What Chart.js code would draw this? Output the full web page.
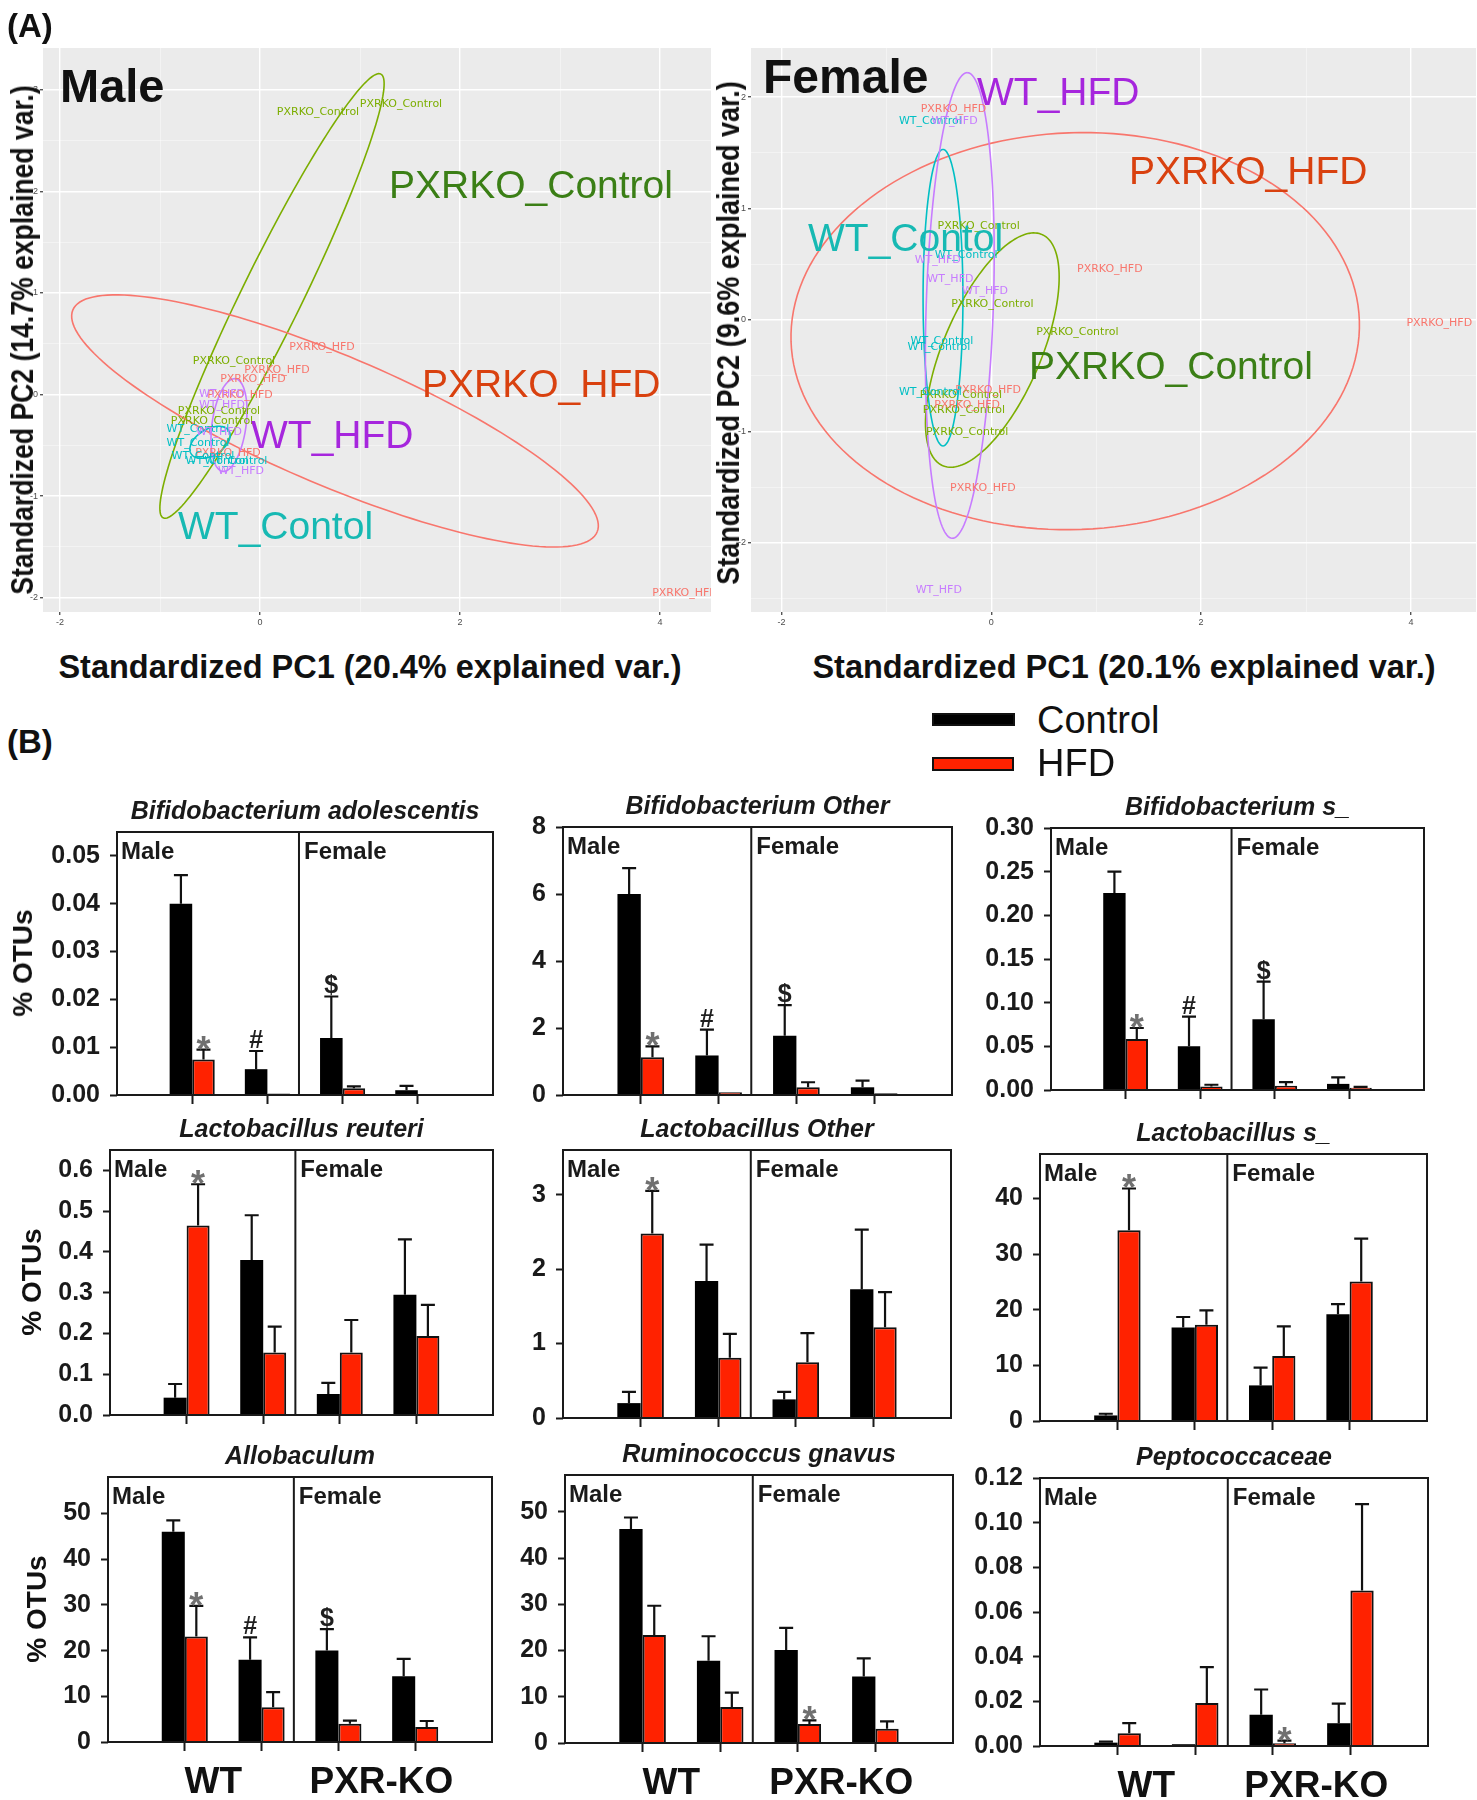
<!DOCTYPE html>
<html>
<head>
<meta charset="utf-8">
<script src="https://cdn.jsdelivr.net/npm/chart.js@4.4.1/dist/chart.umd.min.js"></script>
<style>
  body { margin: 0; background: #fff; }
  #fig { position: relative; width: 1477px; height: 1800px; overflow: hidden;
         font-family: "Liberation Sans", Arial, Helvetica, sans-serif; color: #111; }
  canvas { position: absolute; }
  .t { position: absolute; white-space: nowrap; line-height: 1; z-index: 2; }
  .sw { position: absolute; box-sizing: border-box; z-index: 2; }
</style>
</head>
<body>
<div id="fig"></div>
<script>
// ---------- PCA (A) ----------
const pcaGroups = ['PXRKO_Control', 'PXRKO_HFD', 'WT_Control', 'WT_HFD'];

const maleKoControl = [[0.58, 2.78], [1.41, 2.86], [-0.26, 0.33], [-0.41, -0.16], [-0.48, -0.26]];
const maleKoHfd = [[0.62, 0.47], [0.17, 0.24], [-0.07, 0.15], [-0.2, -0.01], [-0.32, -0.58], [4.25, -1.95]];
const maleWtControl = [[-0.62, -0.34], [-0.62, -0.48], [-0.57, -0.61], [-0.43, -0.66], [-0.24, -0.66]];
const maleWtHfd = [[-0.38, 0.0], [-0.38, -0.1], [-0.41, -0.37], [-0.19, -0.75]];
// ellipses: centre x, centre y, semi-major, semi-minor, angle (deg)
const maleEllipses = [[0.12, 0.97, 2.44, 0.3, 63.5], [0.75, -0.26, 2.84, 0.64, -22.6],
                      [-0.5, -0.47, 0.22, 0.13, 30], [-0.31, -0.3, 0.46, 0.17, 82]];

const femKoControl = [[-0.12, 0.84], [0.01, 0.14], [0.82, -0.11], [-0.29, -0.67], [-0.26, -0.81], [-0.23, -1.01]];
const femKoHfd = [[-0.36, 1.89], [1.13, 0.46], [4.27, -0.03], [-0.03, -0.63], [-0.23, -0.76], [-0.08, -1.51]];
const femWtControl = [[-0.58, 1.78], [-0.24, 0.58], [-0.47, -0.19], [-0.5, -0.24], [-0.58, -0.65]];
const femWtHfd = [[-0.35, 1.78], [-0.51, 0.54], [-0.39, 0.37], [-0.06, 0.26], [-0.5, -2.42]];
const femEllipses = [[0.01, -0.27, 1.14, 0.46, 65], [0.8, -0.1, 2.71, 1.78, 2],
                     [-0.46, 0.2, 1.33, 0.19, 90], [-0.3, 0.13, 2.09, 0.32, 88]];

// ---------- bar panels (B) ----------
const slots = ['', 'WT male', 'PXR-KO male', 'WT female', 'PXR-KO female', ''];

const bifAdoCtrl = [0.040, 0.0054, 0.0119, 0.0010];
const bifAdoCtrlErr = [0.006, 0.0038, 0.0087, 0.0009];
const bifAdoHfd = [0.0074, 0.0003, 0.0014, 0.0001];
const bifAdoHfdErr = [0.0021, 0, 0.0004, 0];

const bifOthCtrl = [6.0, 1.18, 1.77, 0.23];
const bifOthCtrlErr = [0.77, 0.77, 0.91, 0.2];
const bifOthHfd = [1.13, 0.08, 0.23, 0.05];
const bifOthHfdErr = [0.32, 0, 0.15, 0];

const bifSCtrl = [0.2255, 0.050, 0.081, 0.007];
const bifSCtrlErr = [0.0245, 0.034, 0.043, 0.0075];
const bifSHfd = [0.0585, 0.004, 0.005, 0.0027];
const bifSHfdErr = [0.0125, 0.002, 0.004, 0.0008];

const lacReuCtrl = [0.0425, 0.38, 0.0515, 0.295];
const lacReuCtrlErr = [0.0335, 0.11, 0.0275, 0.136];
const lacReuHfd = [0.465, 0.153, 0.153, 0.194];
const lacReuHfdErr = [0.101, 0.064, 0.08, 0.076];

const lacOthCtrl = [0.20, 1.84, 0.25, 1.73];
const lacOthCtrlErr = [0.15, 0.49, 0.10, 0.80];
const lacOthHfd = [2.48, 0.81, 0.75, 1.22];
const lacOthHfdErr = [0.57, 0.32, 0.39, 0.47];

const lacSCtrl = [1.0, 16.8, 6.4, 19.2];
const lacSCtrlErr = [0.3, 1.9, 3.2, 1.8];
const lacSHfd = [34.3, 17.3, 11.7, 25.1];
const lacSHfdErr = [7.5, 2.6, 5.3, 7.7];

const alloCtrl = [46.0, 18.0, 20.0, 14.4];
const alloCtrlErr = [2.5, 4.9, 4.7, 3.8];
const alloHfd = [23.1, 7.6, 4.0, 3.3];
const alloHfdErr = [6.7, 3.3, 0.7, 1.3];

const rumCtrl = [46.3, 17.8, 20.1, 14.4];
const rumCtrlErr = [2.5, 5.3, 4.8, 3.9];
const rumHfd = [23.4, 7.8, 4.1, 3.1];
const rumHfdErr = [6.3, 3.1, 0.8, 1.6];

const pepCtrl = [0.0015, 0.0008, 0.014, 0.0102];
const pepCtrlErr = [0.0005, 0, 0.0113, 0.0088];
const pepHfd = [0.0057, 0.0192, 0.0012, 0.0696];
const pepHfdErr = [0.0045, 0.0161, 0.0012, 0.0387];

// significance marks above the bars
const marksCtrlBif = ['', '#', '$', ''];
const marksHfdFirst = ['*', '', '', ''];
const marksNone = ['', '', '', ''];
const marksHfdThird = ['', '', '*', ''];

// ---------- helpers ----------
const FONT = '"Liberation Sans", Arial, Helvetica, sans-serif';
Chart.defaults.font.family = FONT;
const fig = document.getElementById('fig');

function addText(txt, x, cy, size, o = {}) {
  const d = document.createElement('div');
  d.className = 't';
  d.textContent = txt;
  d.style.left = x + 'px';
  d.style.top = (cy - size * 0.49) + 'px';
  d.style.fontSize = size + 'px';
  d.style.fontWeight = o.bold ? 'bold' : 'normal';
  if (o.color) d.style.color = o.color;
  if (o.center) d.style.transform = 'translateX(-50%)';
  if (o.rot) {
    d.style.top = cy + 'px';
    d.style.transform = 'translate(-50%,-50%) rotate(-90deg) scaleX(' + o.rot + ')';
  }
  fig.appendChild(d);
  return d;
}

function makeCanvas(left, top, w, h) {
  const c = document.createElement('canvas');
  c.width = w; c.height = h;
  c.style.left = left + 'px'; c.style.top = top + 'px';
  c.style.width = w + 'px'; c.style.height = h + 'px';
  fig.appendChild(c);
  return c;
}

// ---------- PCA charts ----------
const pcaColors = ['#7cae00', '#f8766d', '#00bfc4', '#c77cff'];

const pcaExtras = {
  id: 'pcaExtras',
  beforeDraw(chart) {
    const { ctx, chartArea: a } = chart;
    ctx.save();
    ctx.fillStyle = '#ebebeb';
    ctx.fillRect(a.left, a.top, a.right - a.left, a.bottom - a.top);
    ctx.restore();
  },
  afterDatasetsDraw(chart, args, opts) {
    const { ctx, chartArea: a, scales: { x, y } } = chart;
    ctx.save();
    ctx.beginPath();
    ctx.rect(a.left, a.top, a.right - a.left, a.bottom - a.top);
    ctx.clip();
    opts.ellipses.forEach((e, i) => {
      const [cx, cy, ra, rb, deg] = e;
      const t = deg * Math.PI / 180;
      ctx.beginPath();
      for (let k = 0; k <= 160; k++) {
        const s = k / 160 * 2 * Math.PI;
        const ex = cx + ra * Math.cos(t) * Math.cos(s) - rb * Math.sin(t) * Math.sin(s);
        const ey = cy + ra * Math.sin(t) * Math.cos(s) + rb * Math.cos(t) * Math.sin(s);
        const px = x.getPixelForValue(ex), py = y.getPixelForValue(ey);
        if (k === 0) ctx.moveTo(px, py); else ctx.lineTo(px, py);
      }
      ctx.strokeStyle = pcaColors[i];
      ctx.lineWidth = 1.6;
      ctx.stroke();
    });
    ctx.font = '11px "DejaVu Sans", sans-serif';
    ctx.textAlign = 'center';
    ctx.textBaseline = 'middle';
    chart.data.datasets.forEach((ds, i) => {
      ctx.fillStyle = pcaColors[i];
      chart.getDatasetMeta(i).data.forEach(el => ctx.fillText(ds.label, el.x, el.y));
    });
    ctx.restore();
  }
};

function pcaChart(canvas, groups, ellipses, ax) {
  const gridColor = major => ctx => (ctx.tick && major(ctx.tick.value)) ? '#ffffff' : 'rgba(255,255,255,0.6)';
  const gridWidth = major => ctx => (ctx.tick && major(ctx.tick.value)) ? 1.4 : 0.7;
  const tickCol = major => ctx => (ctx.tick && major(ctx.tick.value)) ? '#555' : 'rgba(0,0,0,0)';
  const xMajor = v => v % 2 === 0;
  const yMajor = v => Number.isInteger(v);
  return new Chart(canvas, {
    type: 'scatter',
    data: {
      datasets: groups.map((pts, i) => ({
        label: pcaGroups[i],
        data: pts.map(p => ({ x: p[0], y: p[1] })),
        pointRadius: 0
      }))
    },
    options: {
      responsive: false, animation: false, devicePixelRatio: 1,
      layout: { padding: { top: ax.padTop, right: ax.padRight, left: 0, bottom: 0 } },
      plugins: { legend: { display: false }, tooltip: { enabled: false }, pcaExtras: { ellipses } },
      scales: {
        x: {
          type: 'linear', min: ax.xMin, max: ax.xMax,
          ticks: { stepSize: 1, includeBounds: false, maxRotation: 0, autoSkip: false, padding: 2, color: '#4d4d4d',
                   font: { size: 9 }, callback: v => xMajor(v) ? String(v) : '' },
          grid: { color: gridColor(xMajor), lineWidth: gridWidth(xMajor), tickColor: tickCol(xMajor), tickLength: 3 },
          border: { display: false },
          afterFit: s => { s.height = ax.xH; }
        },
        y: {
          type: 'linear', min: ax.yMin, max: ax.yMax,
          ticks: { stepSize: 0.5, includeBounds: false, autoSkip: false, padding: 2, color: '#4d4d4d',
                   font: { size: 9 }, callback: v => yMajor(v) ? String(v) : '' },
          grid: { color: gridColor(yMajor), lineWidth: gridWidth(yMajor), tickColor: tickCol(yMajor), tickLength: 3 },
          border: { display: false },
          afterFit: s => { s.width = ax.yW; }
        }
      }
    },
    plugins: [pcaExtras]
  });
}

pcaChart(makeCanvas(0, 20, 735, 620),
  [maleKoControl, maleKoHfd, maleWtControl, maleWtHfd], maleEllipses,
  { xMin: -2.17, xMax: 4.51, yMin: -2.14, yMax: 3.41, padTop: 28, padRight: 24, xH: 28, yW: 43 });

pcaChart(makeCanvas(737, 20, 740, 620),
  [femKoControl, femKoHfd, femWtControl, femWtHfd], femEllipses,
  { xMin: -2.29, xMax: 4.62, yMin: -2.62, yMax: 2.44, padTop: 28, padRight: 1, xH: 28, yW: 14 });

// ---------- bar charts ----------
const DIVIDER_AT = 2.42;

const barExtras = {
  id: 'barExtras',
  afterDatasetsDraw(chart, args, opts) {
    const { ctx, chartArea: a, scales: { x, y } } = chart;
    ctx.save();
    chart.data.datasets.forEach((ds, d) => {
      chart.getDatasetMeta(d).data.forEach((el, j) => {
        const v = ds.data[j];
        if (v == null) return;
        const e = ds.errs[j - 1];
        const cap = y.getPixelForValue(v + e);
        if (e > 0) {
          ctx.strokeStyle = '#111';
          ctx.lineWidth = 2.2;
          ctx.beginPath();
          ctx.moveTo(el.x, el.y);
          ctx.lineTo(el.x, cap);
          ctx.moveTo(el.x - 7, cap);
          ctx.lineTo(el.x + 7, cap);
          ctx.stroke();
        }
        const m = ds.marks[j - 1];
        if (m) {
          ctx.textAlign = 'center';
          ctx.textBaseline = 'alphabetic';
          if (m === '*') {
            ctx.font = 'bold 36px ' + FONT;
            ctx.fillStyle = '#707070';
            ctx.fillText(m, el.x, cap + 12);
          } else {
            ctx.font = 'bold 25px ' + FONT;
            ctx.fillStyle = '#1f1f1f';
            ctx.fillText(m, el.x, cap - 3);
          }
        }
      });
    });
    // frame and sex divider
    ctx.strokeStyle = '#1a1a1a';
    ctx.lineWidth = 2;
    ctx.strokeRect(a.left, a.top, a.right - a.left, a.bottom - a.top);
    const dx = x.getPixelForValue(DIVIDER_AT);
    ctx.beginPath();
    ctx.moveTo(dx, a.top);
    ctx.lineTo(dx, a.bottom);
    ctx.stroke();
    ctx.fillStyle = '#1a1a1a';
    ctx.textBaseline = 'alphabetic';
    ctx.textAlign = 'left';
    ctx.font = 'bold 24px ' + FONT;
    ctx.fillText('Male', a.left + 4, a.top + 27);
    ctx.fillText('Female', dx + 5, a.top + 27);
    ctx.textAlign = 'center';
    ctx.font = 'italic bold 25px ' + FONT;
    ctx.fillText(opts.title, (a.left + a.right) / 2, a.top - 13);
    if (opts.genotypes) {
      ctx.font = 'bold 37px ' + FONT;
      ctx.fillStyle = '#111';
      ctx.fillText('WT', x.getPixelForValue(1.37), a.bottom + 51);
      ctx.fillText('PXR-KO', x.getPixelForValue(3.56), a.bottom + 51);
    }
    ctx.restore();
  }
};

function barChart(box, p) {
  const [l, t, r, b] = box;
  const yW = 105, padTop = 45, padRight = 10, xH = 60;
  const canvas = makeCanvas(l - yW, t - padTop, (r - l) + yW + padRight, (b - t) + padTop + xH);
  return new Chart(canvas, {
    type: 'bar',
    data: {
      labels: slots,
      datasets: [
        { label: 'Control', data: [null, ...p.ctrl, null], errs: p.ctrlErr, marks: p.ctrlMarks,
          backgroundColor: '#000000', borderColor: '#000000', borderWidth: 0,
          categoryPercentage: 0.6, barPercentage: 1.0 },
        { label: 'HFD', data: [null, ...p.hfd, null], errs: p.hfdErr, marks: p.hfdMarks,
          backgroundColor: '#ff2200', borderColor: '#111111', borderWidth: 2,
          categoryPercentage: 0.6, barPercentage: 1.0 }
      ]
    },
    options: {
      responsive: false, animation: false, devicePixelRatio: 1,
      layout: { padding: { top: padTop, right: padRight, left: 0, bottom: 0 } },
      plugins: { legend: { display: false }, tooltip: { enabled: false },
                 barExtras: { title: p.title, genotypes: p.genotypes } },
      scales: {
        x: {
          type: 'category', offset: false,
          ticks: { autoSkip: false, maxRotation: 0, callback: () => '' },
          grid: { offset: false, drawOnChartArea: false, drawTicks: true, tickLength: 9, tickWidth: 2,
                  tickColor: ctx => (ctx.index >= 1 && ctx.index <= 4) ? '#1a1a1a' : 'rgba(0,0,0,0)' },
          border: { display: false },
          afterFit: s => { s.height = xH; }
        },
        y: {
          min: 0, max: p.max,
          ticks: { stepSize: p.step, includeBounds: false, padding: 10, color: '#1a1a1a',
                   font: { size: 25, weight: 'bold' }, callback: v => v.toFixed(p.dec) },
          grid: { drawOnChartArea: false, drawTicks: true, tickLength: 7, tickWidth: 2, tickColor: '#1a1a1a' },
          border: { display: false },
          afterFit: s => { s.width = yW; }
        }
      }
    },
    plugins: [barExtras]
  });
}

barChart([117, 832, 493, 1095], { title: 'Bifidobacterium adolescentis', max: 0.055, step: 0.01, dec: 2,
  ctrl: bifAdoCtrl, ctrlErr: bifAdoCtrlErr, hfd: bifAdoHfd, hfdErr: bifAdoHfdErr,
  ctrlMarks: marksCtrlBif, hfdMarks: marksHfdFirst });
barChart([563, 827, 952, 1095], { title: 'Bifidobacterium Other', max: 8, step: 2, dec: 0,
  ctrl: bifOthCtrl, ctrlErr: bifOthCtrlErr, hfd: bifOthHfd, hfdErr: bifOthHfdErr,
  ctrlMarks: marksCtrlBif, hfdMarks: marksHfdFirst });
barChart([1051, 828, 1424, 1090], { title: 'Bifidobacterium s_', max: 0.30, step: 0.05, dec: 2,
  ctrl: bifSCtrl, ctrlErr: bifSCtrlErr, hfd: bifSHfd, hfdErr: bifSHfdErr,
  ctrlMarks: marksCtrlBif, hfdMarks: marksHfdFirst });

barChart([110, 1150, 493, 1415], { title: 'Lactobacillus reuteri', max: 0.65, step: 0.1, dec: 1,
  ctrl: lacReuCtrl, ctrlErr: lacReuCtrlErr, hfd: lacReuHfd, hfdErr: lacReuHfdErr,
  ctrlMarks: marksNone, hfdMarks: marksHfdFirst });
barChart([563, 1150, 951, 1418], { title: 'Lactobacillus Other', max: 3.6, step: 1, dec: 0,
  ctrl: lacOthCtrl, ctrlErr: lacOthCtrlErr, hfd: lacOthHfd, hfdErr: lacOthHfdErr,
  ctrlMarks: marksNone, hfdMarks: marksHfdFirst });
barChart([1040, 1154, 1427, 1421], { title: 'Lactobacillus s_', max: 48, step: 10, dec: 0,
  ctrl: lacSCtrl, ctrlErr: lacSCtrlErr, hfd: lacSHfd, hfdErr: lacSHfdErr,
  ctrlMarks: marksNone, hfdMarks: marksHfdFirst });

barChart([108, 1477, 492, 1742], { title: 'Allobaculum', max: 58, step: 10, dec: 0, genotypes: true,
  ctrl: alloCtrl, ctrlErr: alloCtrlErr, hfd: alloHfd, hfdErr: alloHfdErr,
  ctrlMarks: marksCtrlBif, hfdMarks: marksHfdFirst });
barChart([565, 1475, 953, 1743], { title: 'Ruminococcus gnavus', max: 58, step: 10, dec: 0, genotypes: true,
  ctrl: rumCtrl, ctrlErr: rumCtrlErr, hfd: rumHfd, hfdErr: rumHfdErr,
  ctrlMarks: marksNone, hfdMarks: marksHfdThird });
barChart([1040, 1478, 1428, 1746], { title: 'Peptococcaceae', max: 0.12, step: 0.02, dec: 2, genotypes: true,
  ctrl: pepCtrl, ctrlErr: pepCtrlErr, hfd: pepHfd, hfdErr: pepHfdErr,
  ctrlMarks: marksNone, hfdMarks: marksHfdThird });

// ---------- page text ----------
addText('(A)', 7, 25, 33, { bold: true });
addText('Male', 60, 85, 47, { bold: true });
addText('Female', 763, 77, 48, { bold: true });

addText('PXRKO_Control', 389, 184, 39, { color: '#3b7f16' });
addText('PXRKO_HFD', 422, 383, 39, { color: '#d9410f' });
addText('WT_HFD', 251, 434, 39, { color: '#a626dd' });
addText('WT_Contol', 178, 525, 39, { color: '#17b9b3' });

addText('WT_HFD', 977, 91, 39, { color: '#a626dd' });
addText('PXRKO_HFD', 1129, 170, 39, { color: '#d9410f' });
addText('WT_Contol', 808, 237, 39, { color: '#17b9b3' });
addText('PXRKO_Control', 1029, 365, 39, { color: '#3b7f16' });

addText('Standardized PC1 (20.4% explained var.)', 370, 667, 32.5, { bold: true, center: true });
addText('Standardized PC1 (20.1% explained var.)', 1124, 667, 32.5, { bold: true, center: true });
addText('Standardized PC2 (14.7% explained var.)', 22, 340, 32, { bold: true, rot: 0.83 });
addText('Standardized PC2 (9.6% explained var.)', 728, 333, 32, { bold: true, rot: 0.845 });

addText('(B)', 7, 741, 33, { bold: true });
addText('% OTUs', 23, 963, 28, { bold: true, rot: 1 });
addText('% OTUs', 32, 1282, 28, { bold: true, rot: 1 });
addText('% OTUs', 37, 1609, 28, { bold: true, rot: 1 });

// legend
function swatch(x, y, w, h, fill) {
  const s = document.createElement('div');
  s.className = 'sw';
  s.style.left = x + 'px'; s.style.top = y + 'px';
  s.style.width = w + 'px'; s.style.height = h + 'px';
  s.style.background = fill;
  s.style.border = '2px solid #111';
  fig.appendChild(s);
}
swatch(932, 713, 83, 13, '#000000');
swatch(932, 757, 82, 14, '#ff2200');
addText('Control', 1037, 720, 38);
addText('HFD', 1037, 763, 38);
</script>
</body>
</html>
